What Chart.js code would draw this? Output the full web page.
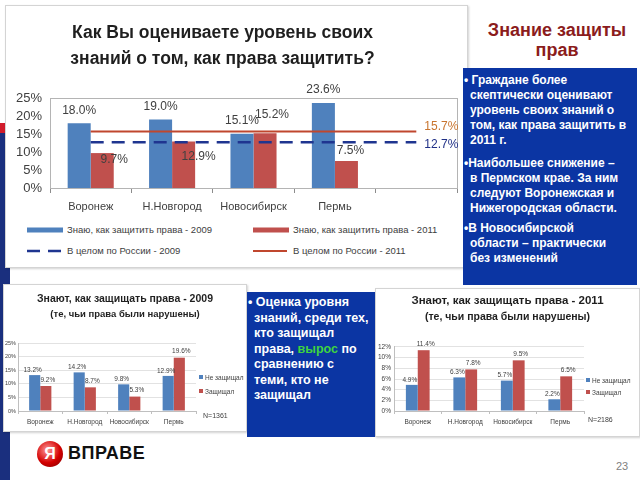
<!DOCTYPE html>
<html lang="ru">
<head>
<meta charset="utf-8">
<title>Знание защиты прав</title>
<script src="https://cdn.jsdelivr.net/npm/chart.js@4/dist/chart.umd.min.js"></script>
<style>
  html, body { margin: 0; padding: 0; }
  body { width: 640px; height: 480px; position: relative; overflow: hidden; background: #fff;
         font-family: "Liberation Sans", Arial, sans-serif; }
  .abs { position: absolute; }
  .panel { position: absolute; background: #fff; border: 1px solid #d4d4d4; box-sizing: border-box;
           box-shadow: 1px 1px 2px rgba(0,0,0,0.18); }
  canvas { position: absolute; }
  .bluebox { position: absolute; background: #0b35a3; color: #fff; font-weight: bold; box-sizing: border-box; }
  .bluebox p { margin: 0; padding-left: 7px; text-indent: -6px; }
  .legend { position: absolute; display: grid; color: #404040; }
  .legend .item { display: flex; align-items: center; white-space: nowrap; }
  .legend svg { display: block; }
</style>
</head>
<body>
<!-- левая полоса слайда -->
<div class="abs" style="left:0;top:123px;width:10px;height:10px;background:#d11c2b"></div>
<div class="abs" style="left:0;top:133px;width:10px;height:347px;background:#1a2f7e"></div>

<div class="panel" style="left:5px;top:5px;width:463px;height:263px"></div>
<div class="panel" style="left:3px;top:284px;width:244px;height:148px"></div>
<div class="panel" style="left:375px;top:288px;width:265px;height:149px"></div>

<canvas id="mainChart" width="480" height="213" style="left:-12px;top:5px"></canvas>
<canvas id="chart2009" width="244" height="148" style="left:3px;top:284px"></canvas>
<canvas id="chart2011" width="265" height="149" style="left:375px;top:288px"></canvas>

<div id="mainLegend" class="legend" style="left:27px;top:219px;grid-template-columns:226px auto;grid-auto-rows:21px;font-size:9.5px"></div>
<div id="legend2009" class="legend" style="left:199px;top:370px;grid-auto-rows:14px;font-size:6.5px"></div>
<div id="legend2011" class="legend" style="left:586px;top:374px;grid-auto-rows:12px;font-size:6.5px"></div>
<div class="abs" style="left:203px;top:412px;font-size:7px;color:#404040">N=1361</div>
<div class="abs" style="left:588px;top:416px;font-size:7px;color:#404040">N=2186</div>

<div class="abs" style="left:470px;top:20px;width:174px;text-align:center;font-weight:bold;font-size:18px;line-height:20px;color:#8b1c1c">Знание защиты<br>прав</div>

<div class="bluebox" style="left:463px;top:68px;width:174px;height:217px;padding-top:5px;font-size:12px;line-height:15px">
  <p>• Граждане более<br>скептически оценивают<br>уровень своих знаний о<br>том, как права защитить в<br>2011 г.</p>
  <p style="margin-top:8px">•Наибольшее снижение –<br>в Пермском крае. За ним<br>следуют Воронежская и<br>Нижегородская области.</p>
  <p style="margin-top:5px">•В Новосибирской<br>области – практически<br>без изменений</p>
</div>

<div class="bluebox" style="left:247px;top:292px;width:128px;height:145px;padding-top:3px;font-size:12.5px;line-height:15.5px">
  <p>• Оценка уровня<br>знаний, среди тех,<br>кто защищал<br>права, <span style="color:#3fd43f">вырос</span> по<br>сравнению с<br>теми, кто не<br>защищал</p>
</div>

<!-- логотип -->
<div class="abs" style="left:37px;top:441px;width:26px;height:26px;border-radius:50%;background:radial-gradient(circle at 40% 35%, #ff9a9a, #d40000 55%, #7a0000);color:#fff;font-weight:bold;font-size:16px;line-height:26px;text-align:center">Я</div>
<div class="abs" style="left:68px;top:443px;font-weight:bold;font-size:18px;letter-spacing:0.5px;color:#111">ВПРАВЕ</div>
<div class="abs" style="left:616px;top:460px;font-size:11px;color:#7f7f7f">23</div>

<script>
  // ===== Данные =====
  const regions = ["Воронеж", "Н.Новгород", "Новосибирск", "Пермь"];
  const know2009 = [18.0, 19.0, 15.1, 23.6];
  const know2011 = [9.7, 12.9, 15.2, 7.5];
  const russia2009 = [12.7, 12.7, 12.7, 12.7, 12.7];
  const russia2011 = [15.7, 15.7, 15.7, 15.7, 15.7];
  const mainLabels = ["Знаю, как защитить права - 2009", "Знаю, как защитить права - 2011",
                      "В целом по России - 2009", "В целом по России - 2011"];

  const notDefended2009 = [13.2, 14.2, 9.8, 12.9];
  const defended2009 = [9.2, 8.7, 5.3, 19.6];
  const notDefended2011 = [4.9, 6.3, 5.7, 2.2];
  const defended2011 = [11.4, 7.8, 9.5, 6.5];
  const smallLabels = ["Не защищал", "Защищал"];

  const BLUE = "#4f81bd", RED = "#c0504d";
  Chart.defaults.font.family = "'Liberation Sans', Arial, sans-serif";

  // ===== Подписи значений =====
  function makeValueLabels(cfg) {
    return {
      id: "valueLabels",
      afterDatasetsDraw(chart) {
        const ctx = chart.ctx;
        ctx.save();
        ctx.font = cfg.font;
        ctx.textBaseline = "middle";
        chart.data.datasets.forEach((ds, i) => {
          const meta = chart.getDatasetMeta(i);
          if (ds.type === "line") {
            const end = cfg.ends && cfg.ends[i];
            if (!end) return;
            const pt = meta.data[meta.data.length - 1];
            ctx.fillStyle = end.color;
            ctx.textAlign = "left";
            ctx.fillText(ds.data[ds.data.length - 1].toFixed(1) + "%", pt.x + end.dx, pt.y + end.dy);
            return;
          }
          const shift = cfg.shifts[i];
          ctx.fillStyle = cfg.color;
          ctx.textAlign = "center";
          meta.data.forEach((bar, j) => {
            const s = Array.isArray(shift[0]) ? shift[j] : shift;
            ctx.fillText(ds.data[j].toFixed(1) + "%", bar.x + s[0], bar.y + s[1]);
          });
        });
        ctx.restore();
      }
    };
  }

  const plotBorder = {
    id: "plotBorder",
    beforeDatasetsDraw(chart) {
      const a = chart.chartArea, ctx = chart.ctx;
      ctx.save();
      ctx.strokeStyle = "#b4b4b4";
      ctx.lineWidth = 1;
      ctx.strokeRect(Math.round(a.left) + 0.5, Math.round(a.top) + 0.5, Math.round(a.right - a.left), Math.round(a.bottom - a.top));
      ctx.restore();
    }
  };

  // пустая ось справа, чтобы оставить место под легенду
  function spacerAxis(w) {
    return {
      type: "linear", position: "right", display: true,
      grid: { display: false }, border: { display: false }, ticks: { display: false },
      afterFit: s => { s.width = w; }
    };
  }

  // ===== Основной график =====
  const mainChart = new Chart(document.getElementById("mainChart"), {
    type: "bar",
    data: {
      labels: regions.concat([""]),
      datasets: [
        { label: mainLabels[0], data: know2009, backgroundColor: BLUE, order: 2 },
        { label: mainLabels[1], data: know2011, backgroundColor: RED, order: 2 },
        { type: "line", label: mainLabels[2], data: russia2009, borderColor: "#1f3590", borderWidth: 2.5,
          borderDash: [13, 8], pointRadius: 0, order: 1 },
        { type: "line", label: mainLabels[3], data: russia2011, borderColor: "#c0472e", borderWidth: 2,
          pointRadius: 0, order: 1 }
      ]
    },
    options: {
      responsive: false, animation: false, devicePixelRatio: 1,
      datasets: { bar: { categoryPercentage: 0.566, barPercentage: 1 } },
      layout: { padding: { left: 0, right: 11, top: 0, bottom: 0 } },
      plugins: {
        legend: { display: false },
        tooltip: { enabled: false },
        title: {
          display: true,
          text: ["Как Вы оцениваете уровень своих", "знаний о том, как права защитить?"],
          color: "#1f1f1f",
          font: { size: 17.5, weight: "bold", lineHeight: 1.5 },
          padding: { top: 15, bottom: 25.5 }
        }
      },
      scales: {
        x: {
          grid: { offset: true, drawOnChartArea: false, tickLength: 5, color: "#8c8c8c" },
          border: { color: "#8c8c8c" },
          ticks: { padding: 7, color: "#404040", font: { size: 11 }, autoSkip: false, maxRotation: 0 },
          afterFit: s => { s.height = 30; }
        },
        y: {
          min: 0, max: 25,
          grid: { display: false, drawTicks: false },
          border: { color: "#8c8c8c" },
          ticks: { stepSize: 5, padding: 8, color: "#404040", font: { size: 13 }, autoSkip: false,
                   callback: v => v + "%" },
          afterFit: s => { s.width = 62; }
        }
      }
    },
    plugins: [plotBorder, makeValueLabels({
      font: "12px 'Liberation Sans', Arial, sans-serif",
      color: "#404040",
      shifts: [[0, -13], [[12, 7], [15, 15], [7, -19], [4, -10]]],
      ends: { 2: { color: "#1f2f86", dx: 8, dy: 2 }, 3: { color: "#c8742e", dx: 8, dy: -5 } }
    })]
  });

  // ===== Малые графики =====
  function smallChart(id, title, notDef, def, yMax, yStep, g) {
    return new Chart(document.getElementById(id), {
      type: "bar",
      data: {
        labels: regions,
        datasets: [
          { label: smallLabels[0], data: notDef, backgroundColor: BLUE },
          { label: smallLabels[1], data: def, backgroundColor: RED }
        ]
      },
      options: {
        responsive: false, animation: false, devicePixelRatio: 1,
        datasets: { bar: { categoryPercentage: g.cat, barPercentage: 1 } },
        layout: { padding: 0 },
        plugins: {
          legend: { display: false },
          tooltip: { enabled: false },
          title: { display: true, text: title, color: "#1f1f1f",
                   font: { size: g.t1, weight: "bold", lineHeight: 1.2 }, padding: { top: g.p1, bottom: 0 } },
          subtitle: { display: true, text: "(те, чьи права были нарушены)", color: "#1f1f1f",
                      font: { size: g.t2, weight: "bold", lineHeight: 1.2 }, padding: { top: g.p2, bottom: g.p3 } }
        },
        scales: {
          x: {
            grid: { offset: true, drawOnChartArea: false, tickLength: 3, color: "#bfbfbf" },
            border: { color: "#bfbfbf" },
            ticks: { padding: 4, color: "#404040", font: { size: 6.5 }, autoSkip: false, maxRotation: 0 },
            afterFit: s => { s.height = g.xh; }
          },
          y: {
            min: 0, max: yMax,
            grid: { color: "#e2e2e2", drawTicks: false },
            border: { color: "#bfbfbf" },
            ticks: { stepSize: yStep, padding: g.yp, color: "#404040", font: { size: g.yf }, autoSkip: false,
                     callback: v => v + "%" },
            afterFit: s => { s.width = g.yw; }
          },
          spacer: spacerAxis(g.right)
        }
      },
      plugins: [makeValueLabels({
        font: "6.5px 'Liberation Sans', Arial, sans-serif",
        color: "#404040",
        shifts: [[-2, -5], [2, -6]]
      })]
    });
  }

  const chart2009 = smallChart("chart2009", "Знают, как защищать права - 2009", notDefended2009, defended2009, 25, 5,
    { cat: 0.5, right: 51, t1: 10.5, t2: 9.5, p1: 9, p2: 2.7, p3: 23.3, xh: 21, yw: 15, yp: 2, yf: 5.5 });
  const chart2011 = smallChart("chart2011", "Знают, как защищать права - 2011", notDefended2011, defended2011, 12, 2,
    { cat: 0.5, right: 56, t1: 11.5, t2: 10.5, p1: 6, p2: 2.9, p3: 23.7, xh: 26, yw: 19, yp: 3, yf: 6.5 });

  // ===== Легенды =====
  function swatch(ds, w, h) {
    if (ds.type === "line") {
      const dash = ds.borderDash ? ds.borderDash.join(" ") : "none";
      return `<svg width="${w}" height="${h}"><line x1="0" y1="${h / 2}" x2="${w - 2}" y2="${h / 2}" stroke="${ds.borderColor}" stroke-width="${ds.borderWidth}" stroke-dasharray="${dash}"/></svg>`;
    }
    const rh = Math.min(h, 5);
    return `<svg width="${w}" height="${h}"><rect x="0" y="${(h - rh) / 2}" width="${w}" height="${rh}" fill="${ds.backgroundColor}"/></svg>`;
  }

  function buildLegend(chart, elId, w, h, gap) {
    const el = document.getElementById(elId);
    el.innerHTML = chart.data.datasets.map(ds =>
      `<div class="item">${swatch(ds, w, h)}<span style="margin-left:${gap}px">${ds.label}</span></div>`).join("");
  }

  buildLegend(mainChart, "mainLegend", 36, 8, 4);
  buildLegend(chart2009, "legend2009", 4, 4, 2);
  buildLegend(chart2011, "legend2011", 4, 4, 2);
</script>
</body>
</html>
